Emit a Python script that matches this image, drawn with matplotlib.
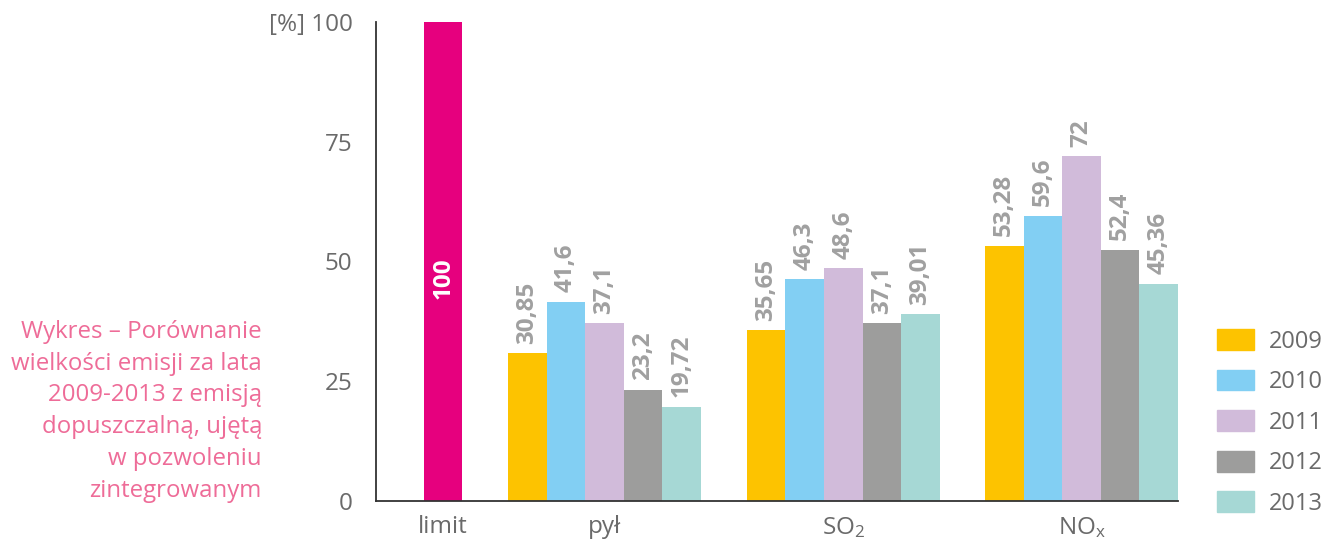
import matplotlib
matplotlib.use("Agg")
import matplotlib.pyplot as plt
from matplotlib.patches import Patch
import numpy as np

plt.rcParams['font.family'] = ['Open Sans', 'DejaVu Sans']
plt.rcParams['mathtext.fontset'] = 'custom'
plt.rcParams['mathtext.rm'] = 'Open Sans'
plt.rcParams['mathtext.it'] = 'Open Sans'

categories = ["limit", "pył", "SO$_\\mathrm{2}$", "NO$_\\mathrm{x}$"]
years = ["2009", "2010", "2011", "2012", "2013"]
limit_value = 100
pyl = [30.85, 41.6, 37.1, 23.2, 19.72]
so2 = [35.65, 46.3, 48.6, 37.1, 39.01]
nox = [53.28, 59.6, 72, 52.4, 45.36]
y_ticks = [0, 25, 50, 75, 100]
y_tick_labels = ["0", "25", "50", "75", "[%] 100"]

limit_color = "#E6007E"
year_colors = ["#FDC300", "#82CFF3", "#D1BBDA", "#9D9D9C", "#A6D8D5"]
text_gray = "#6A6A6A"
value_gray = "#A0A0A0"
pink = "#EE6C98"

# layout in units of one bar width
group_centers = [1.74, 5.92, 12.11, 18.28]


def fmt(v):
    return ("%g" % v).replace(".", ",")


fig = plt.figure(figsize=(13.25, 5.4), dpi=100)
ax = fig.add_axes([376 / 1325, 39 / 540, 802 / 1325, 479 / 540])

ax.bar(group_centers[0], limit_value, width=1.0, color=limit_color)
ax.text(group_centers[0], 46.5, str(limit_value), rotation=90, ha="center",
        va="center", color="white", fontsize=17.5, fontweight="bold")

for gi, series in enumerate([pyl, so2, nox]):
    c = group_centers[gi + 1]
    for i, v in enumerate(series):
        x = c + (i - 2)
        ax.bar(x, v, width=1.0, color=year_colors[i])
        ax.text(x, v + 2.0, fmt(v), rotation=90, ha="center", va="bottom",
                color=value_gray, fontsize=17.5, fontweight="bold")

ax.set_xlim(0, 20.78)
ax.set_ylim(0, 100)
ax.set_xticks(group_centers)
ax.set_xticklabels(categories)
ax.set_yticks(y_ticks)
ax.set_yticklabels(y_tick_labels)
ax.tick_params(axis="both", length=0, labelsize=17.5, labelcolor=text_gray)
ax.tick_params(axis="y", pad=17)
ax.tick_params(axis="x", pad=10)
for side in ["top", "right"]:
    ax.spines[side].set_visible(False)
for side in ["left", "bottom"]:
    ax.spines[side].set_color("#333333")
    ax.spines[side].set_linewidth(1.3)

handles = [Patch(color=c) for c in year_colors]
fig.legend(handles, years, loc="upper left",
           bbox_to_anchor=(1217 / 1325, 1 - 329 / 540), frameon=False,
           fontsize=17, labelcolor=text_gray, handlelength=1.57,
           handleheight=0.98, handletextpad=0.64, labelspacing=0.68,
           borderpad=0, borderaxespad=0)

fig.text(262 / 1325, 1 - 320 / 540,
         "Wykres – Porównanie\nwielkości emisji za lata\n2009-2013 z emisją\n"
         "dopuszczalną, ujętą\nw pozwoleniu\nzintegrowanym",
         ha="right", va="top", color=pink, fontsize=17.3, linespacing=1.43)

fig.savefig("out.png", dpi=100)
